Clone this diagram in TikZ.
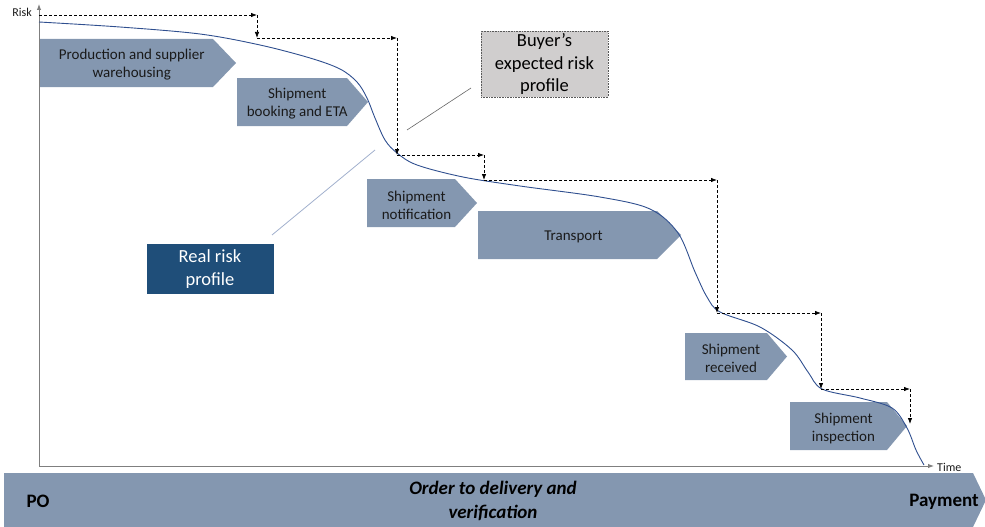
\documentclass[tikz,border=0pt]{standalone}
\usepackage{fontspec}
\setmainfont{Carlito}
\usetikzlibrary{arrows.meta}

\definecolor{stepblue}{HTML}{8497B0}
\definecolor{curveblue}{HTML}{2F4F8F}
\definecolor{axisgray}{HTML}{7F7F7F}
\definecolor{realblue}{HTML}{1F4E79}
\definecolor{buyergray}{HTML}{D0CECE}
\definecolor{textdark}{HTML}{1A1A1A}

\tikzset{
  stepfill/.style={fill=stepblue},
  steptext/.style={align=center, text=textdark, inner sep=0pt, yshift=-2pt,
    font=\fontsize{15}{18}\selectfont},
  axisline/.style={draw=axisgray, line width=1pt, -{Latex[length=6pt,width=4.5pt]}},
  axislabel/.style={text=textdark, inner sep=0pt, font=\fontsize{12}{14}\selectfont},
  riskcurve/.style={draw=curveblue, line width=0.9pt},
  expectstep/.style={draw=black, line width=0.75pt, dash pattern=on 3pt off 2pt,
    -{Latex[length=6pt,width=4.5pt]}},
  calloutbox/.style={minimum width=127pt, align=center, inner sep=0pt,
    font=\fontsize{18.5}{22.5}\selectfont},
  buyerline/.style={draw=gray!80!black, line width=0.6pt},
  realline/.style={draw=curveblue!45, line width=0.8pt},
  bartext/.style={text=black, inner sep=0pt, font=\fontsize{19}{23}\selectfont\bfseries}
}

% process step: name, left, top, shoulder, tip, bottom, text
\newcommand\procarrow[7]{%
  \fill[stepfill] (#2,#3) -- (#4,#3) -- (#5,{(#3+#6)/2}) -- (#4,#6) -- (#2,#6) -- cycle;
  \node[steptext] (#1) at ({(#2+(#4+#5)/2)/2},{(#3+#6)/2}) {#7};}

\begin{document}
\begin{tikzpicture}[x=1pt, y=-1pt]
\useasboundingbox (0,0) rectangle (985,527);

% timeline bar
\fill[stepfill] (4,473) -- (973,473) -- (986,500) -- (973,527) -- (4,527) -- cycle;
\node[bartext] (po) at (38,501.5) {PO};
\node[bartext, anchor=east] (pay) at (979,501.5) {Payment};
\node[bartext, align=center, font=\fontsize{19}{24}\selectfont\bfseries\itshape]
  (otd) at (493,501) {Order to delivery and\\verification};

% process steps
\procarrow{prod}{39}{39}{213}{236}{87}{Production and supplier\\warehousing}
\procarrow{book}{237}{78}{347}{368}{126}{Shipment\\booking and ETA}
\procarrow{notif}{367}{179}{455}{477}{227}{Shipment\\notification}
\procarrow{trans}{478}{211}{657}{681}{259}{Transport}
\procarrow{recv}{685}{333}{767}{787}{380}{Shipment\\received}
\procarrow{insp}{790}{402}{887}{907}{450}{Shipment\\inspection}

% axes
\coordinate (origin) at (39,466);
\coordinate (ytop) at (39,4);
\coordinate (xend) at (934,466);
\draw[axisline] (origin) -- (ytop);
\draw[axisline] (origin) -- (xend);
\node[axislabel, anchor=east] (risk) at (32,12) {Risk};
\node[axislabel, anchor=west] (time) at (937,467) {Time};

% real risk profile
\draw[riskcurve] plot[smooth, tension=0.55] coordinates {
  (39,22) (120,27) (200,34) (260,45) (310,58) (340,69) (357,82) (367,98)
  (375,118) (385,140) (397,153) (417,165) (463,177) (520,186) (600,197)
  (650,209) (678,233) (695,272) (707,297) (720,312) (760,327) (792,350)
  (808,372) (822,389) (860,398) (892,408) (907,428) (916,450) (924,465)};

% expected risk profile (stepwise)
\coordinate (e0) at (39,15);
\coordinate (e1) at (257,15);
\coordinate (e2) at (257,38);
\coordinate (e3) at (397,38);
\coordinate (e4) at (397,155);
\coordinate (e5) at (484,155);
\coordinate (e6) at (484,180);
\coordinate (e7) at (717,180);
\coordinate (e8) at (717,313);
\coordinate (e9) at (821,313);
\coordinate (e10) at (821,389);
\coordinate (e11) at (910,389);
\coordinate (e12) at (910,424);
\foreach \a/\b in {e0/e1,e1/e2,e2/e3,e3/e4,e4/e5,e5/e6,e6/e7,e7/e8,e8/e9,e9/e10,e10/e11,e11/e12}
  \draw[expectstep] (\a) -- (\b);

% callouts
\node[calloutbox, fill=buyergray, draw=gray!70!black, densely dotted,
  line width=0.6pt, minimum height=66pt, text=black] (buyer) at (544.5,64)
  {\raisebox{-2pt}{\parbox{127pt}{\centering Buyer’s\\expected risk\\profile}}};
\node[calloutbox, fill=realblue, minimum height=50pt, text=white] (real) at (210,269)
  {\raisebox{-1pt}{\parbox{127pt}{\centering Real risk\\profile}}};
\coordinate (buyerfoot) at (471,88);
\coordinate (buyerhead) at (407,130);
\coordinate (realfoot) at (272,235);
\coordinate (realhead) at (375,150);
\draw[buyerline] (buyerfoot) -- (buyerhead);
\draw[realline] (realfoot) -- (realhead);
\end{tikzpicture}
\end{document}
